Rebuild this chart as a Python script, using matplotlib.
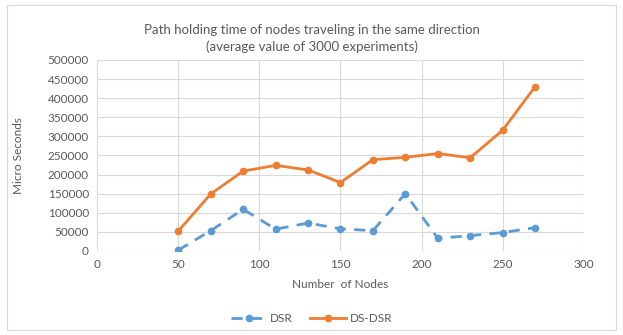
import matplotlib
matplotlib.use("Agg")
import matplotlib.pyplot as plt
from matplotlib.patches import Rectangle

plt.rcParams['font.family'] = ['Lato', 'DejaVu Sans']

nodes = [50, 70, 90, 110, 130, 150, 170, 190, 210, 230, 250, 270]
dsr = [2000, 53000, 109000, 57000, 73000, 58000, 53000, 150000, 33000, 40000, 48000, 61000]
ds_dsr = [52000, 149000, 209000, 224000, 212000, 179000, 239000, 245000, 255000, 244000, 316000, 430000]

blue = '#5B9BD5'
orange = '#ED7D31'
grid_c = '#D9D9D9'
text_c = '#595959'

fig = plt.figure(figsize=(6.23, 3.35), dpi=100)
ax = fig.add_axes([0.156, 0.251, 0.781, 0.570])

ax.plot(nodes, dsr, color=blue, lw=2, ls=(0, (4, 3)), marker='o', ms=4.5, label='DSR')
ax.plot(nodes, ds_dsr, color=orange, lw=2, marker='o', ms=4.5, label='DS-DSR')

ax.set_xlim(0, 300)
ax.set_ylim(0, 500000)
ax.set_xticks(range(0, 301, 50))
ax.set_yticks(range(0, 500001, 50000))
ax.grid(True, color=grid_c, lw=0.8)
ax.set_axisbelow(True)
for s in ax.spines.values():
    s.set_visible(False)
ax.tick_params(length=0, labelsize=8.5, colors=text_c, pad=6)

ax.set_xlabel('Number  of Nodes', fontsize=8.5, color=text_c, labelpad=6)
fig.text(0.029, 0.537, 'Micro Seconds', rotation=90, ha='center', va='center',
         fontsize=8.5, color=text_c)
fig.text(0.5, 0.885, 'Path holding time of nodes traveling in the same direction\n(average value of 3000 experiments)',
         ha='center', va='center', fontsize=9.5, color=text_c, linespacing=1.35)

fig.legend(loc='lower center', bbox_to_anchor=(0.5, 0.0), ncol=2, frameon=False,
           fontsize=8.5, labelcolor=text_c, handlelength=3.0, handletextpad=0.3,
           columnspacing=1.5)

# light frame round the whole chart
fig.patches.append(Rectangle((0.012, 0.015), 0.976, 0.97, transform=fig.transFigure,
                             fill=False, edgecolor='#D9D9D9', lw=0.8))

fig.savefig('out.png', dpi=100)
